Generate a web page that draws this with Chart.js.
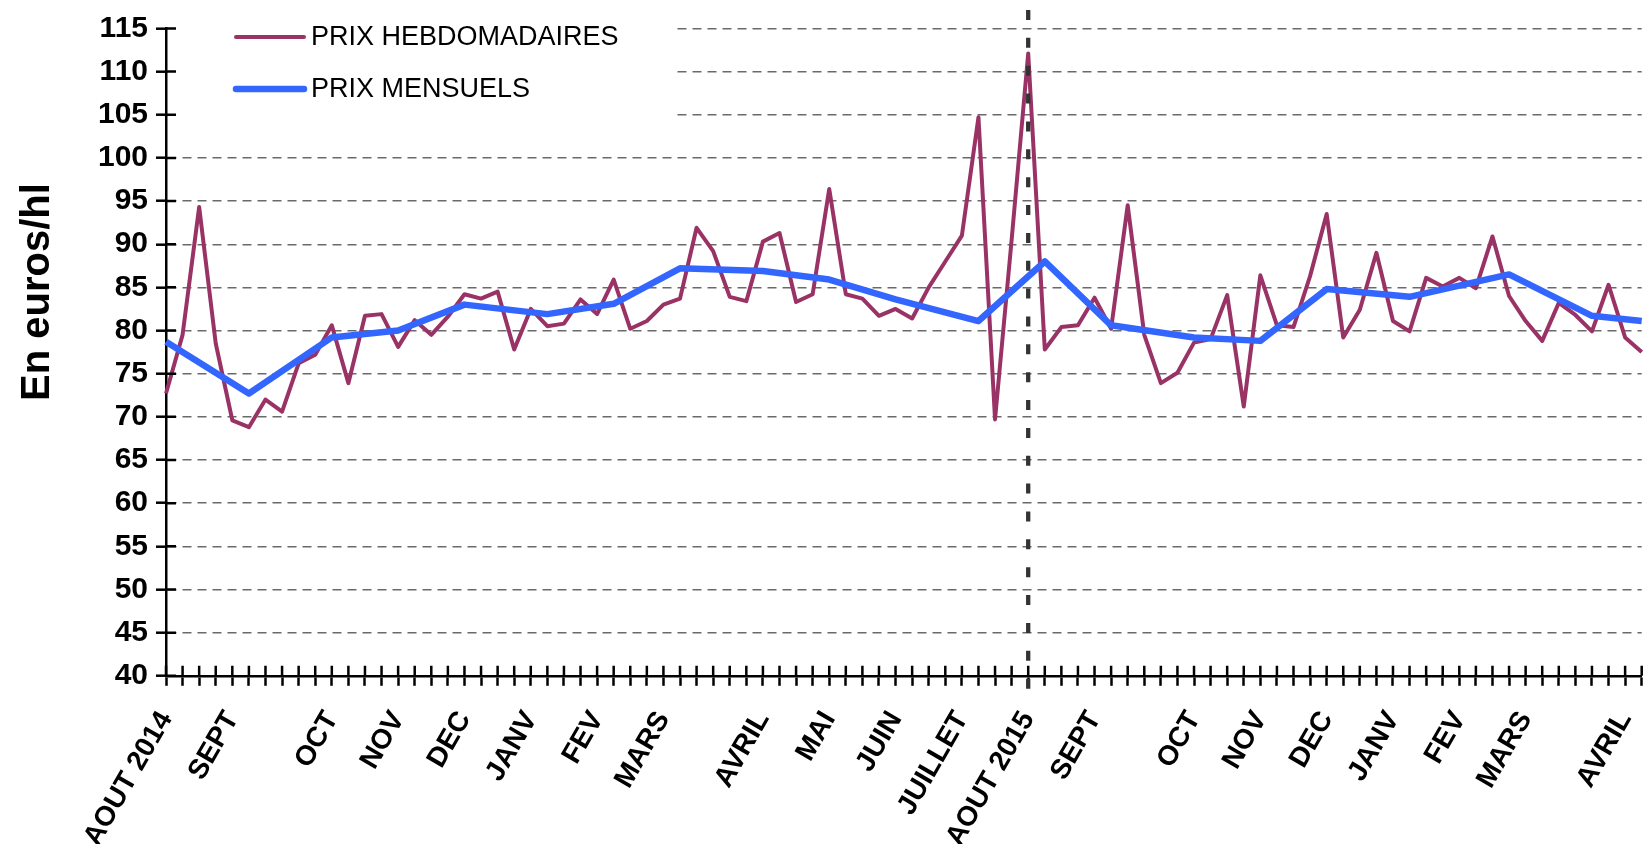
<!DOCTYPE html>
<html><head><meta charset="utf-8">
<script src="https://cdn.jsdelivr.net/npm/chart.js@4.4.1/dist/chart.umd.min.js"></script>
<style>html,body{margin:0;padding:0;background:#fff;overflow:hidden}#wrap{width:1643px;height:844px;position:relative}</style>
</head><body><div id="wrap"><canvas id="c" width="1643" height="844"></canvas></div>
<script>
// ---- DATA ----
const weekCount = 90; // weekly points, Aug 2014 -> Apr 2016
const monthNames = ['AOUT 2014','SEPT','OCT','NOV','DEC','JANV','FEV','MARS','AVRIL','MAI','JUIN','JUILLET','AOUT 2015','SEPT','OCT','NOV','DEC','JANV','FEV','MARS','AVRIL'];
const monthLabelWeeks = [0,4,10,14,18,22,26,30,36,40,44,48,52,56,62,66,70,74,78,82,88];
const weeklyPrices = [
  72.7,79.5,94.3,78.5,69.6,68.8,72.0,70.6,76.2,77.2,
  80.6,73.9,81.7,81.9,78.1,81.2,79.5,81.6,84.2,83.7,
  84.5,77.8,82.5,80.5,80.8,83.6,81.9,85.9,80.2,81.1,
  83.0,83.7,91.9,89.2,83.9,83.4,90.3,91.3,83.3,84.2,
  96.4,84.2,83.7,81.7,82.5,81.4,85.0,88.0,91.0,104.7,
  69.7,90.5,112.1,77.8,80.4,80.6,83.8,80.2,94.5,79.5,
  73.9,75.1,78.6,79.0,84.1,71.2,86.4,80.6,80.4,86.3,
  93.5,79.2,82.4,89.0,81.1,79.9,86.1,85.1,86.1,84.9,
  90.9,84.0,81.1,78.8,83.2,81.8,79.9,85.3,79.2,77.5
];
const monthlyWeeks = [0,5,10,14,18,23,27,31,36,40,44,49,53,57,62,66,70,75,81,86,89];
const monthlyPrices = [78.7,72.7,79.2,80.0,83.0,81.9,83.1,87.2,86.9,85.9,83.6,81.1,88.0,80.6,79.2,78.8,84.8,83.9,86.5,81.7,81.1];
const yMin = 40, yMax = 115, yStep = 5;
const markerWeek = 52; // AOUT 2015
const seriesNames = ['PRIX HEBDOMADAIRES','PRIX MENSUELS'];
const yTitle = 'En euros/hl';

// ---- build tables ----
const xLabels = [];
for (let i = 0; i < weekCount; i++) {
  const k = monthLabelWeeks.indexOf(i);
  xLabels.push(k >= 0 ? monthNames[k] : '');
}
const monthlySeries = new Array(weekCount).fill(null);
monthlyWeeks.forEach((w, k) => { monthlySeries[w] = monthlyPrices[k]; });

const FONT = '"Liberation Sans", Arial, Helvetica, sans-serif';

const legendBoxPlugin = {
  id: 'legendBox',
  beforeDatasetsDraw(chart) {
    const {ctx, chartArea} = chart;
    const ys = chart.scales.y;
    const bottom = (ys.getPixelForValue(105) + ys.getPixelForValue(100)) / 2;
    ctx.save();
    ctx.fillStyle = '#fff';
    ctx.fillRect(chartArea.left + 2, 0, 677 - chartArea.left - 2, bottom);
    const rows = [37, 89];
    chart.data.datasets.forEach((ds, k) => {
      const y = rows[k];
      ctx.strokeStyle = ds.borderColor;
      ctx.lineWidth = ds.borderWidth;
      ctx.lineCap = 'round';
      ctx.beginPath(); ctx.moveTo(236, y); ctx.lineTo(304, y); ctx.stroke();
      ctx.fillStyle = '#000';
      ctx.font = '27px ' + FONT;
      ctx.textBaseline = 'middle';
      ctx.textAlign = 'left';
      ctx.fillText(ds.label, 311, y + 1);
    });
    ctx.restore();
  }
};

const markerPlugin = {
  id: 'marker',
  afterDatasetsDraw(chart) {
    const {ctx, chartArea} = chart;
    const x = chart.scales.x.getPixelForValue(markerWeek);
    ctx.save();
    ctx.strokeStyle = '#333';
    ctx.lineWidth = 4.3;
    ctx.setLineDash([10, 17.86]);
    ctx.beginPath();
    ctx.moveTo(x, chartArea.top - 18.4);
    ctx.lineTo(x, chartArea.bottom + 14);
    ctx.stroke();
    ctx.restore();
  }
};

const innerTicksPlugin = {
  id: 'innerTicks',
  afterDraw(chart) {
    const {ctx, chartArea} = chart;
    const xs = chart.scales.x, ys = chart.scales.y;
    ctx.save();
    ctx.strokeStyle = '#000';
    ctx.lineWidth = 2.5;
    ctx.beginPath();
    xs.ticks.forEach((t, i) => {
      const x = xs.getPixelForTick(i);
      ctx.moveTo(x, chartArea.bottom);
      ctx.lineTo(x, chartArea.bottom - 10);
    });
    ys.ticks.forEach((t, i) => {
      const y = ys.getPixelForTick(i);
      ctx.moveTo(chartArea.left, y);
      ctx.lineTo(chartArea.left + 10, y);
    });
    ctx.stroke();
    // axis title
    ctx.translate(49, 292);
    ctx.rotate(-Math.PI / 2);
    ctx.fillStyle = '#000';
    ctx.font = 'bold 40px ' + FONT;
    ctx.textAlign = 'center';
    ctx.textBaseline = 'alphabetic';
    ctx.fillText(yTitle, 0, 0);
    ctx.restore();
  }
};

new Chart(document.getElementById('c'), {
  type: 'line',
  data: {
    labels: xLabels,
    datasets: [
      { label: seriesNames[0], data: weeklyPrices, borderColor: '#993366', backgroundColor: '#993366',
        borderWidth: 4, pointRadius: 0, tension: 0, fill: false, order: 1, borderJoinStyle: 'round' },
      { label: seriesNames[1], data: monthlySeries, borderColor: '#3366FF', backgroundColor: '#3366FF',
        borderWidth: 6.5, pointRadius: 0, tension: 0, fill: false, spanGaps: true, order: 0, borderJoinStyle: 'round' }
    ]
  },
  options: {
    responsive: false,
    animation: false,
    devicePixelRatio: 1,
    layout: { padding: { top: 28.4, right: 1.3, left: 0, bottom: 0 } },
    plugins: { legend: { display: false }, tooltip: { enabled: false } },
    scales: {
      x: {
        type: 'category',
        offset: false,
        afterFit(s) { s.height = 168.2; s.paddingRight = 0; s.paddingLeft = 0; },
        grid: { display: true, drawOnChartArea: false, drawTicks: true, tickLength: 10, tickColor: '#000', tickWidth: 2.5 },
        border: { display: true, color: '#000', width: 2.5 },
        ticks: { autoSkip: false, maxRotation: 60, minRotation: 60, padding: 20, color: '#000',
          font: { family: FONT, size: 28, weight: 'bold' } }
      },
      y: {
        min: yMin, max: yMax,
        afterFit(s) { s.width = 166; s.paddingTop = 0; s.paddingBottom = 0; },
        grid: { display: true, drawOnChartArea: true, drawTicks: true, tickLength: 10, tickColor: '#000', tickWidth: 2.5,
          color: '#6a6a6a', lineWidth: 1.4, tickBorderDash: [] },
        border: { display: true, color: '#000', width: 2.5, dash: [9, 6] },
        ticks: { stepSize: yStep, autoSkip: false, padding: 8, color: '#000',
          font: { family: FONT, size: 30, weight: 'bold' } }
      }
    }
  },
  plugins: [legendBoxPlugin, markerPlugin, innerTicksPlugin]
});
</script></body></html>
